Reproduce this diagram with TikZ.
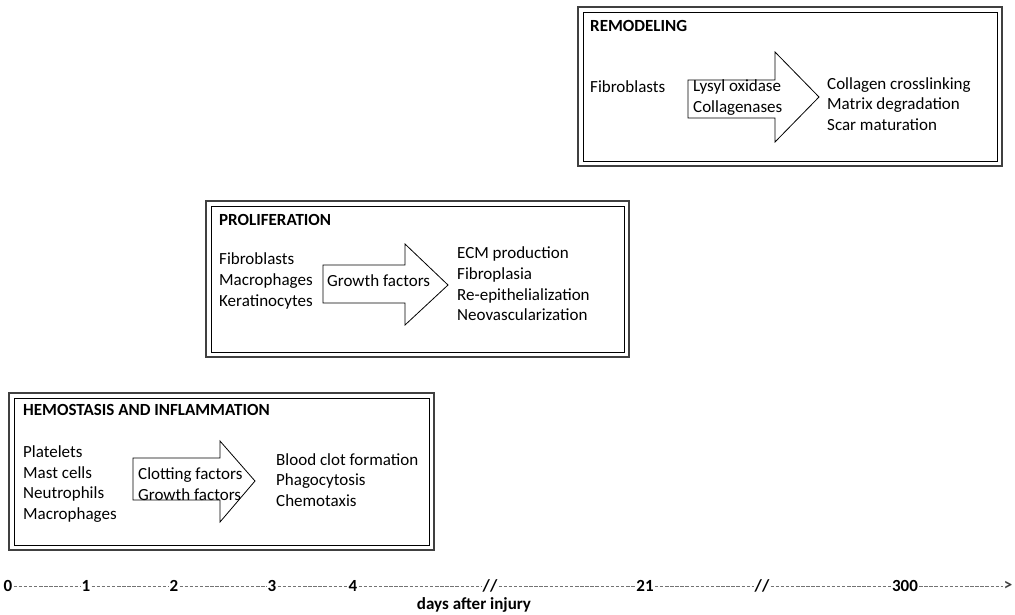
\documentclass[tikz,border=0pt]{standalone}
\usepackage{fontspec}
\setmainfont{Carlito}
\usepackage{xcolor}
\usetikzlibrary{positioning}

\begin{document}
\begin{tikzpicture}[x=1pt, y=-1pt,
    frame/.style={draw=black!75, line width=2.5pt},
    innerframe/.style={draw=black, line width=0.9pt},
    blockarrow/.style={draw=black, line width=0.8pt, fill=white},
    title/.style={anchor=west, inner sep=0pt, font=\fontsize{17}{20}\selectfont\bfseries},
    txt/.style={anchor=west, inner sep=0pt, align=left, font=\fontsize{17}{20.7}\selectfont},
    tick/.style={inner sep=1pt, font=\fontsize{17}{20}\selectfont\bfseries},
    axisdash/.style={draw=black!55, line width=1pt, dash pattern=on 3.5pt off 1.6pt}
]
\useasboundingbox (0,0) rectangle (1015,614);

% Remodeling phase
\draw[frame] (578,7) rectangle (1002,166);
\draw[innerframe] (583,12) rectangle (997,161);
\draw[blockarrow] (688,80) -- (775,80) -- (775,52) -- (819,97) -- (775,142) -- (775,118) -- (688,118) -- cycle;
\node[title] (remod-title) at (590,26) {REMODELING};
\node[txt] (remod-cells) at (590,87) {Fibroblasts};
\node[txt] (remod-factors) at (693,97.5) {Lysyl oxidase\\Collagenases};
\node[txt] (remod-effects) at (827,104) {Collagen crosslinking\\Matrix degradation\\Scar maturation};

% Proliferation phase
\draw[frame] (206,201) rectangle (629,357);
\draw[innerframe] (211,206) rectangle (624,352);
\draw[blockarrow] (323,265) -- (405,265) -- (405,244) -- (448,285) -- (405,325) -- (405,303) -- (323,303) -- cycle;
\node[title] (prolif-title) at (219,220) {PROLIFERATION};
\node[txt] (prolif-cells) at (219,281) {Fibroblasts\\Macrophages\\Keratinocytes};
\node[txt] (prolif-factors) at (327,281) {Growth factors};
\node[txt] (prolif-effects) at (457,284) {ECM production\\Fibroplasia\\Re-epithelialization\\Neovascularization};

% Hemostasis and inflammation phase
\draw[frame] (9,393) rectangle (434,550);
\draw[innerframe] (14,398) rectangle (429,545);
\draw[blockarrow] (133,458) -- (220,458) -- (220,441) -- (255,481) -- (220,522) -- (220,500) -- (133,500) -- cycle;
\node[title] (hemo-title) at (23,410) {HEMOSTASIS AND INFLAMMATION};
\node[txt] (hemo-cells) at (23,484) {Platelets\\Mast cells\\Neutrophils\\Macrophages};
\node[txt] (hemo-factors) at (138,484) {Clotting factors\\Growth factors};
\node[txt] (hemo-effects) at (276,480) {Blood clot formation\\Phagocytosis\\Chemotaxis};

% Time axis
\node[tick] (t0) at (8,586) {0};
\node[tick] (t1) at (86,586) {1};
\node[tick] (t2) at (174,586) {2};
\node[tick] (t3) at (272,586) {3};
\node[tick] (t4) at (353,586) {4};
\node[tick] (brk1) at (490,586) {//};
\node[tick] (t21) at (645,586) {21};
\node[tick] (brk2) at (762,586) {//};
\node[tick] (t300) at (905,586) {300};
\node[tick, text=black!75] (tend) at (1008,586) {>};
\draw[axisdash] (t0) -- (t1) (t1) -- (t2) (t2) -- (t3) (t3) -- (t4) (t4) -- (brk1)
    (brk1) -- (t21) (t21) -- (brk2) (brk2) -- (t300) (t300) -- (tend);
\node[tick] (axis-label) at (474,605) {days after injury};
\end{tikzpicture}
\end{document}
